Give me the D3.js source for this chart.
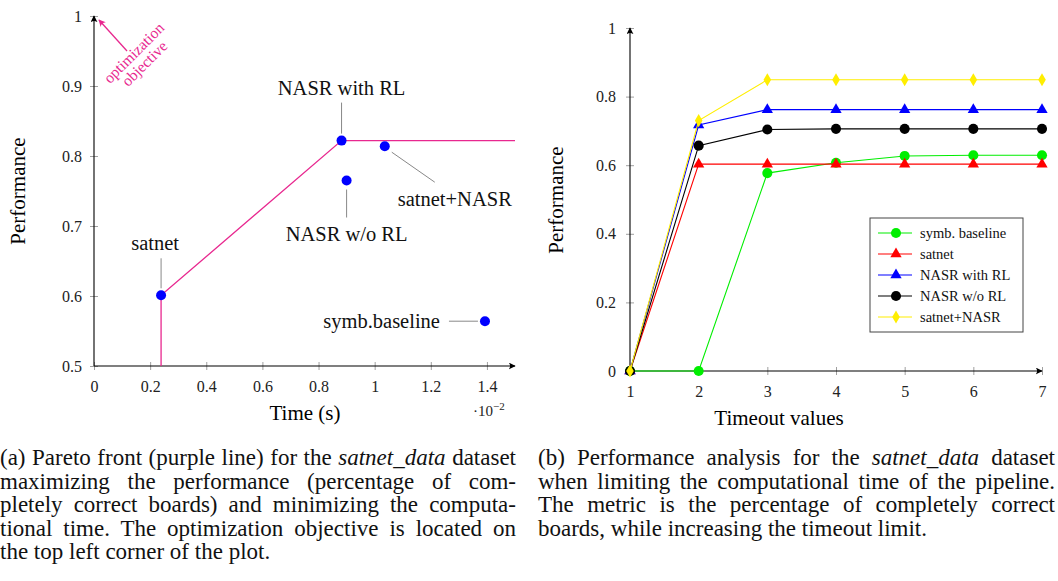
<!DOCTYPE html>
<html>
<head>
<meta charset="utf-8">
<script src="https://cdn.jsdelivr.net/npm/d3@7"></script>
<style>
  body { margin: 0; background: #fff; }
  #wrap { position: relative; width: 1058px; height: 581px; overflow: hidden; }
  svg { position: absolute; left: 0; top: 0; }
  .cap { position: absolute; font-family: "Liberation Serif", serif; font-size: 23px; color: #111; }
  .cap div { height: 23.5px; line-height: 23.5px; text-align: justify; text-align-last: justify; white-space: nowrap; }
  .cap div.last { text-align-last: left; }
</style>
</head>
<body>
<div id="wrap">
  <div id="chart-area"></div>
</div>
<script>
// ---- left chart: pareto front ----
var methods = ["satnet", "NASR with RL", "NASR w/o RL", "satnet+NASR", "symb.baseline"];
var timeVals = [0.239, 0.882, 0.900, 1.036, 1.393];      // x 10^-2 s
var perfVals = [0.601, 0.822, 0.765, 0.814, 0.564];
var paretoX = [0.239, 0.239, 0.882, 1.5];
var paretoY = [0.5, 0.601, 0.822, 0.822];
var leftXTicks = [0, 0.2, 0.4, 0.6, 0.8, 1, 1.2, 1.4];
var leftYTicks = [0.5, 0.6, 0.7, 0.8, 0.9, 1];

// ---- right chart: timeout analysis ----
var timeouts = [1, 2, 3, 4, 5, 6, 7];
var seriesNames = ["symb. baseline", "satnet", "NASR with RL", "NASR w/o RL", "satnet+NASR"];
var symbBaseline = [0, 0, 0.577, 0.607, 0.627, 0.629, 0.629];
var satnet = [0, 0.603, 0.603, 0.603, 0.603, 0.603, 0.603];
var nasrWithRL = [0, 0.717, 0.762, 0.762, 0.762, 0.762, 0.762];
var nasrWoRL = [0, 0.657, 0.704, 0.706, 0.706, 0.706, 0.706];
var satnetNasr = [0, 0.730, 0.849, 0.849, 0.849, 0.849, 0.849];
var rightYTicks = [0, 0.2, 0.4, 0.6, 0.8, 1];

var serif = "Liberation Serif";

var svg = d3.select("#chart-area")
    .append("svg")
        .attr("width", 1058)
        .attr("height", 581);

var defs = svg.append("defs");
function arrowMarker(id, color) {
    defs.append("marker")
        .attr("id", id)
        .attr("viewBox", "0 0 10 10")
        .attr("refX", 9).attr("refY", 5)
        .attr("markerWidth", 7).attr("markerHeight", 7)
        .attr("markerUnits", "userSpaceOnUse")
        .attr("orient", "auto")
      .append("path")
        .attr("d", "M0,0 Q4,5 0,10 L10,5 Z")
        .attr("fill", color);
}
arrowMarker("arrBlack", "#000");
arrowMarker("arrPink", "#e8288f");

// draw axis ticks crossing the axis line in gray, labels in serif
function styleAxis(g) {
    g.attr("font-family", serif);
    g.select(".domain").remove();
    g.selectAll(".tick line").attr("stroke", "#888").attr("stroke-width", 0.8);
    g.selectAll(".tick text")
        .style("font-family", serif)
        .attr("font-size", 16)
        .attr("fill", "#222");
}

// ================= LEFT =================
var xL = d3.scaleLinear().domain([0, 1.5]).range([94, 515]);
var yL = d3.scaleLinear().domain([0.5, 1]).range([366, 16]);

var left = svg.append("g");

left.append("g")
    .attr("transform", "translate(0," + yL(0.5) + ")")
    .call(d3.axisBottom(xL).tickValues(leftXTicks).tickSize(4).tickPadding(11)
        .tickFormat(function(d) { return d; }))
    .call(styleAxis)
    .selectAll(".tick line").attr("y1", -4);

left.append("g")
    .attr("transform", "translate(" + xL(0) + ",0)")
    .call(d3.axisLeft(yL).tickValues(leftYTicks).tickSize(4).tickPadding(8)
        .tickFormat(function(d) { return d; }))
    .call(styleAxis)
    .selectAll(".tick line").attr("x1", 4);

left.append("line")
    .attr("x1", xL(0)).attr("y1", yL(0.5)).attr("x2", xL(1.5)).attr("y2", yL(0.5))
    .attr("stroke", "#000").attr("stroke-width", 1.1).attr("marker-end", "url(#arrBlack)");
left.append("line")
    .attr("x1", xL(0)).attr("y1", yL(0.5)).attr("x2", xL(0)).attr("y2", yL(1))
    .attr("stroke", "#000").attr("stroke-width", 1.1).attr("marker-end", "url(#arrBlack)");

var pareto = paretoX.map(function(d, i) { return [d, paretoY[i]]; });
left.append("path")
    .attr("d", d3.line().x(function(d) { return xL(d[0]); }).y(function(d) { return yL(d[1]); })(pareto))
    .attr("fill", "none")
    .attr("stroke", "#e8288f")
    .attr("stroke-width", 1.3);

// annotation pins: label offset and pin line, relative to the point
var pins = [
    { tx: -6, ty: -45, x1: 0, y1: -37, x2: 0, y2: -7, anchor: "middle" },
    { tx: 0, ty: -46, x1: 0, y1: -38, x2: 0, y2: -7, anchor: "middle" },
    { tx: 0, ty: 60, x1: 0, y1: 9, x2: 0, y2: 37, anchor: "middle" },
    { tx: 70, ty: 60, x1: 7, y1: 6, x2: 50, y2: 36, anchor: "middle" },
    { tx: -45, ty: 7, x1: -36, y1: 0, x2: -7, y2: 0, anchor: "end" }
];

var pts = left.selectAll(".pt")
    .data(methods)
  .enter().append("g")
    .attr("class", "pt")
    .attr("transform", function(d, i) { return "translate(" + xL(timeVals[i]) + "," + yL(perfVals[i]) + ")"; });

pts.append("line")
    .attr("x1", function(d, i) { return pins[i].x1; })
    .attr("y1", function(d, i) { return pins[i].y1; })
    .attr("x2", function(d, i) { return pins[i].x2; })
    .attr("y2", function(d, i) { return pins[i].y2; })
    .attr("stroke", "#888")
    .attr("stroke-width", 1);

pts.append("circle")
    .attr("r", 5)
    .attr("fill", "#0000ff");

pts.append("text")
    .attr("x", function(d, i) { return pins[i].tx; })
    .attr("y", function(d, i) { return pins[i].ty; })
    .attr("text-anchor", function(d, i) { return pins[i].anchor; })
    .style("font-family", serif)
    .attr("font-size", 20.5)
    .attr("fill", "#111")
    .text(function(d) { return d; });

// optimization objective arrow
left.append("line")
    .attr("x1", 127).attr("y1", 51).attr("x2", 99).attr("y2", 20)
    .attr("stroke", "#e8288f").attr("stroke-width", 1.3)
    .attr("marker-end", "url(#arrPink)");
var obj = left.append("text")
    .attr("transform", "translate(139,58) rotate(-45)")
    .attr("text-anchor", "middle")
    .style("font-family", serif)
    .attr("font-size", 15.5)
    .attr("fill", "#e8288f");
obj.append("tspan").attr("x", 0).attr("y", -2).text("optimization");
obj.append("tspan").attr("x", 0).attr("y", 13).text("objective");

left.append("text")
    .attr("x", 305).attr("y", 420)
    .attr("text-anchor", "middle")
    .style("font-family", serif).attr("font-size", 21)
    .text("Time (s)");
var sci = left.append("text")
    .attr("x", 473).attr("y", 416)
    .style("font-family", serif).attr("font-size", 15)
    .attr("fill", "#222");
sci.append("tspan").text("\u00b710");
sci.append("tspan").attr("dy", -6).attr("font-size", 11).text("\u22122");

left.append("text")
    .attr("transform", "translate(25,191) rotate(-90)")
    .attr("text-anchor", "middle")
    .style("font-family", serif).attr("font-size", 21)
    .text("Performance");

// ================= RIGHT =================
var xR = d3.scaleLinear().domain([1, 7]).range([630, 1042]);
var yR = d3.scaleLinear().domain([0, 1]).range([371, 28]);

var right = svg.append("g");

right.append("g")
    .attr("transform", "translate(0," + yR(0) + ")")
    .call(d3.axisBottom(xR).tickValues(timeouts).tickSize(4).tickPadding(11)
        .tickFormat(d3.format("d")))
    .call(styleAxis)
    .selectAll(".tick line").attr("y1", -4);

right.append("g")
    .attr("transform", "translate(" + xR(1) + ",0)")
    .call(d3.axisLeft(yR).tickValues(rightYTicks).tickSize(4).tickPadding(10)
        .tickFormat(function(d) { return d; }))
    .call(styleAxis)
    .selectAll(".tick line").attr("x1", 4);

right.append("line")
    .attr("x1", xR(1)).attr("y1", yR(0)).attr("x2", xR(7)).attr("y2", yR(0))
    .attr("stroke", "#000").attr("stroke-width", 1.1).attr("marker-end", "url(#arrBlack)");
right.append("line")
    .attr("x1", xR(1)).attr("y1", yR(0)).attr("x2", xR(1)).attr("y2", yR(1))
    .attr("stroke", "#000").attr("stroke-width", 1.1).attr("marker-end", "url(#arrBlack)");

var seriesVals = [symbBaseline, satnet, nasrWithRL, nasrWoRL, satnetNasr];
var colors = ["#00ee00", "#ff0000", "#0000ff", "#000000", "#ffee00"];
var shapes = [d3.symbolCircle, d3.symbolTriangle, d3.symbolTriangle, d3.symbolCircle, d3.symbolDiamond];
var sizes = [80, 55, 55, 80, 50];

var lineR = d3.line()
    .x(function(d, i) { return xR(timeouts[i]); })
    .y(function(d) { return yR(d); });

var series = right.selectAll(".series")
    .data(seriesNames)
  .enter().append("g")
    .attr("class", "series");

series.append("path")
    .attr("d", function(d, i) { return lineR(seriesVals[i]); })
    .attr("fill", "none")
    .attr("stroke", function(d, i) { return colors[i]; })
    .attr("stroke-width", 1.1);

series.each(function(name, si) {
    d3.select(this).selectAll(".mk")
        .data(seriesVals[si])
      .enter().append("path")
        .attr("class", "mk")
        .attr("transform", function(d, i) { return "translate(" + xR(timeouts[i]) + "," + yR(d) + ")"; })
        .attr("d", d3.symbol().type(shapes[si]).size(sizes[si]))
        .attr("fill", colors[si]);
});

// legend
var legend = right.append("g").attr("transform", "translate(870,218)");
legend.append("rect")
    .attr("width", 153).attr("height", 114)
    .attr("fill", "#fff").attr("stroke", "#444").attr("stroke-width", 1);

var items = legend.selectAll(".item")
    .data(seriesNames)
  .enter().append("g")
    .attr("class", "item")
    .attr("transform", function(d, i) { return "translate(0," + (15 + i * 21) + ")"; });
items.append("line")
    .attr("x1", 8).attr("x2", 42)
    .attr("stroke", function(d, i) { return colors[i]; })
    .attr("stroke-width", 1.1);
items.append("path")
    .attr("transform", "translate(26,0)")
    .attr("d", function(d, i) { return d3.symbol().type(shapes[i]).size(sizes[i])(); })
    .attr("fill", function(d, i) { return colors[i]; });
items.append("text")
    .attr("x", 50).attr("y", 5)
    .style("font-family", serif).attr("font-size", 14.5)
    .attr("fill", "#111")
    .text(function(d) { return d; });

right.append("text")
    .attr("x", 779).attr("y", 425)
    .attr("text-anchor", "middle")
    .style("font-family", serif).attr("font-size", 21)
    .text("Timeout values");
right.append("text")
    .attr("transform", "translate(563,200) rotate(-90)")
    .attr("text-anchor", "middle")
    .style("font-family", serif).attr("font-size", 21)
    .text("Performance");

// ================= CAPTIONS =================
var capLeft = [
    "(a) Pareto front (purple line) for the <i>satnet_data</i> dataset",
    "maximizing the performance (percentage of com-",
    "pletely correct boards) and minimizing the computa-",
    "tional time. The optimization objective is located on",
    "the top left corner of the plot."
];
var capRight = [
    "(b) Performance analysis for the <i>satnet_data</i> dataset",
    "when limiting the computational time of the pipeline.",
    "The metric is the percentage of completely correct",
    "boards, while increasing the timeout limit."
];
function caption(lines, x, w) {
    var c = d3.select("#wrap").append("div")
        .attr("class", "cap")
        .style("left", x + "px")
        .style("top", "446px")
        .style("width", w + "px");
    c.selectAll("div")
        .data(lines)
      .enter().append("div")
        .attr("class", function(d, i) { return i === lines.length - 1 ? "last" : null; })
        .html(function(d) { return d; });
}
caption(capLeft, 0, 516);
caption(capRight, 538, 517);
</script>
</body>
</html>
